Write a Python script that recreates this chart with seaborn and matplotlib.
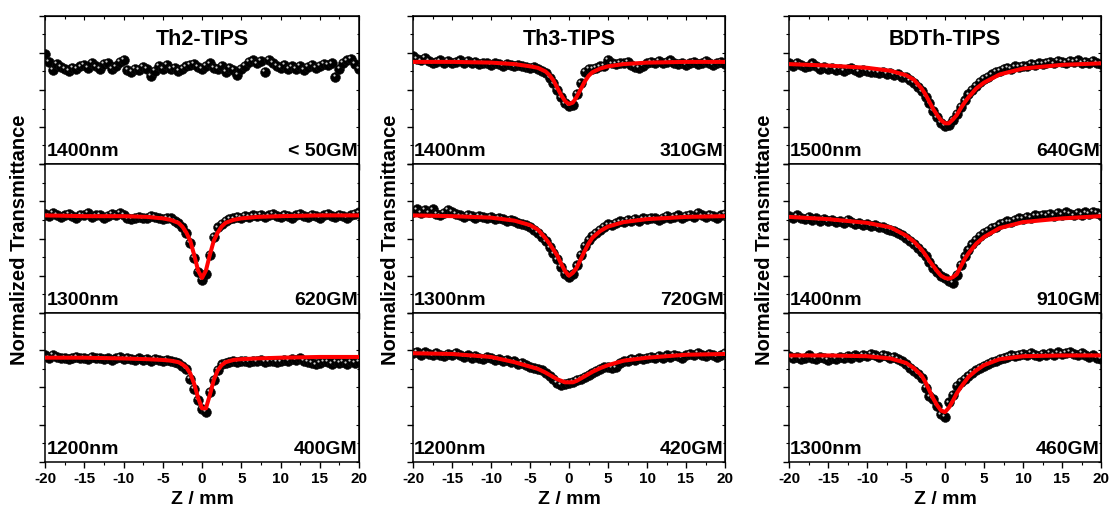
import numpy as np
import pandas as pd
import matplotlib
matplotlib.use("Agg")
import matplotlib.pyplot as plt
import matplotlib.transforms as mtransforms
from matplotlib.ticker import MultipleLocator, NullFormatter
import seaborn as sns

sns.set_style("ticks")
plt.rcParams["font.family"] = ["Liberation Sans", "DejaVu Sans"]
plt.rcParams["font.weight"] = "bold"
for key in ["text.color", "axes.labelcolor", "xtick.color", "ytick.color", "axes.edgecolor"]:
    plt.rcParams[key] = "black"

# scan positions (mm) of the measured points and the fit curve
z_scan = np.arange(-20, 20.01, 0.5)
z_fit = [-20, -15, -10, -7, -5, -4, -3, -2.5, -2, -1.5, -1, -0.5, 0,
         0.5, 1, 1.5, 2, 2.5, 3, 4, 5, 7, 10, 15, 20]

# ---- Th2-TIPS ----
th2_1400 = [0.998, 0.988, 0.977, 0.985, 0.981, 0.979, 0.976, 0.980, 0.979, 0.982, 0.984, 0.980,
            0.987, 0.982, 0.979, 0.985, 0.987, 0.978, 0.982, 0.988, 0.991, 0.977, 0.975, 0.979,
            0.977, 0.981, 0.978, 0.969, 0.976, 0.983, 0.979, 0.984, 0.978, 0.980, 0.976, 0.979,
            0.982, 0.984, 0.985, 0.981, 0.979, 0.983, 0.986, 0.980, 0.978, 0.983, 0.975, 0.980,
            0.977, 0.970, 0.979, 0.983, 0.988, 0.990, 0.986, 0.989, 0.975, 0.991, 0.987, 0.983,
            0.980, 0.984, 0.978, 0.982, 0.979, 0.983, 0.977, 0.981, 0.984, 0.980, 0.983, 0.985,
            0.984, 0.986, 0.968, 0.979, 0.987, 0.990, 0.992, 0.985, 0.978]
th2_1300 = [0.983, 0.980, 0.984, 0.982, 0.979, 0.981, 0.983, 0.980, 0.978, 0.982, 0.981, 0.984,
            0.979, 0.981, 0.982, 0.978, 0.980, 0.983, 0.981, 0.984, 0.982, 0.977, 0.976, 0.978,
            0.979, 0.977, 0.978, 0.980, 0.979, 0.977, 0.976, 0.978, 0.977, 0.974, 0.971,
            0.965, 0.957, 0.944, 0.924, 0.905, 0.894, 0.903, 0.928, 0.952, 0.965, 0.970,
            0.974, 0.976, 0.977, 0.979, 0.978, 0.980, 0.979, 0.981, 0.980, 0.982, 0.979, 0.981,
            0.983, 0.980, 0.979, 0.982, 0.980, 0.978, 0.981, 0.983, 0.980, 0.979, 0.982, 0.980,
            0.978, 0.981, 0.983, 0.980, 0.979, 0.982, 0.980, 0.978, 0.981, 0.983, 0.985]
th2_1300_fit = [0.981, 0.980, 0.980, 0.979, 0.977, 0.975, 0.971, 0.966, 0.958, 0.947, 0.928, 0.907,
                0.897, 0.907, 0.928, 0.947, 0.958, 0.966, 0.971, 0.975, 0.977, 0.979, 0.980, 0.981,
                0.981]
th2_1200 = [0.993, 0.990, 0.994, 0.991, 0.989, 0.990, 0.988, 0.990, 0.991, 0.989, 0.990, 0.988,
            0.991, 0.989, 0.990, 0.988, 0.989, 0.987, 0.989, 0.991, 0.988, 0.990, 0.988, 0.987,
            0.989, 0.987, 0.988, 0.986, 0.988, 0.987, 0.986, 0.987, 0.985, 0.984, 0.983,
            0.979, 0.975, 0.962, 0.948, 0.933, 0.921, 0.917, 0.944, 0.960, 0.974, 0.981,
            0.983, 0.984, 0.985, 0.984, 0.986, 0.985, 0.984, 0.986, 0.985, 0.987, 0.984, 0.985,
            0.986, 0.984, 0.985, 0.987, 0.986, 0.988, 0.987, 0.989, 0.986, 0.984, 0.983, 0.981,
            0.983, 0.985, 0.984, 0.982, 0.985, 0.983, 0.984, 0.982, 0.985, 0.983, 0.984]
th2_1200_fit = [0.990, 0.990, 0.989, 0.988, 0.987, 0.986, 0.984, 0.981, 0.977, 0.969, 0.955, 0.936,
                0.922, 0.922, 0.940, 0.960, 0.973, 0.980, 0.984, 0.987, 0.988, 0.989, 0.990, 0.991,
                0.991]

# ---- Th3-TIPS ----
th3_1400 = [0.996, 0.992, 0.990, 0.993, 0.989, 0.986, 0.988, 0.990, 0.987, 0.989, 0.986, 0.988,
            0.990, 0.987, 0.989, 0.986, 0.988, 0.985, 0.987, 0.986, 0.984, 0.986, 0.985, 0.983,
            0.985, 0.984, 0.982, 0.984, 0.983, 0.981, 0.980, 0.981, 0.979, 0.976, 0.973,
            0.966, 0.959, 0.950, 0.940, 0.932, 0.928, 0.930, 0.945, 0.960, 0.975, 0.978,
            0.978, 0.980, 0.982, 0.983, 0.991, 0.986, 0.985, 0.987, 0.986, 0.988, 0.984, 0.981,
            0.980, 0.983, 0.986, 0.988, 0.987, 0.989, 0.986, 0.988, 0.990, 0.987, 0.985, 0.987,
            0.984, 0.986, 0.988, 0.985, 0.987, 0.989, 0.986, 0.984, 0.986, 0.988, 0.985]
th3_1400_fit = [0.988, 0.988, 0.987, 0.985, 0.982, 0.980, 0.975, 0.970, 0.963, 0.953, 0.943, 0.935,
                0.931, 0.933, 0.941, 0.951, 0.961, 0.969, 0.974, 0.979, 0.982, 0.985, 0.987, 0.988,
                0.988]
th3_1300 = [0.986, 0.989, 0.984, 0.988, 0.985, 0.989, 0.983, 0.981, 0.984, 0.988, 0.986, 0.983,
            0.981, 0.979, 0.982, 0.980, 0.978, 0.980, 0.979, 0.977, 0.979, 0.976, 0.978, 0.976,
            0.974, 0.975, 0.973, 0.971, 0.970, 0.968, 0.966, 0.962, 0.958, 0.952, 0.946,
            0.938, 0.930, 0.922, 0.912, 0.903, 0.898, 0.903, 0.914, 0.928, 0.940, 0.948,
            0.954, 0.958, 0.962, 0.966, 0.969, 0.968, 0.971, 0.973, 0.972, 0.975, 0.974, 0.976,
            0.974, 0.977, 0.976, 0.978, 0.977, 0.975, 0.978, 0.980, 0.977, 0.979, 0.981, 0.978,
            0.980, 0.982, 0.979, 0.984, 0.981, 0.979, 0.982, 0.980, 0.978, 0.981, 0.983]
th3_1300_fit = [0.981, 0.980, 0.978, 0.974, 0.968, 0.962, 0.950, 0.943, 0.935, 0.927, 0.916, 0.906,
                0.900, 0.904, 0.911, 0.922, 0.933, 0.943, 0.951, 0.960, 0.966, 0.972, 0.976, 0.979,
                0.980]
th3_1200 = [0.996, 0.998, 0.994, 0.997, 0.995, 0.993, 0.996, 0.994, 0.992, 0.995, 0.993, 0.996,
            0.994, 0.991, 0.993, 0.990, 0.992, 0.990, 0.988, 0.991, 0.989, 0.987, 0.988, 0.986,
            0.987, 0.984, 0.985, 0.982, 0.983, 0.980, 0.978, 0.976, 0.975, 0.973, 0.970,
            0.966, 0.961, 0.956, 0.953, 0.955, 0.956, 0.958, 0.960, 0.961, 0.964, 0.967,
            0.970, 0.972, 0.975, 0.977, 0.978, 0.976, 0.977, 0.983, 0.985, 0.986, 0.988, 0.987,
            0.989, 0.988, 0.990, 0.991, 0.989, 0.992, 0.990, 0.993, 0.991, 0.994, 0.992, 0.990,
            0.993, 0.995, 0.993, 0.996, 0.994, 0.992, 0.995, 0.993, 0.991, 0.994, 0.996]
th3_1200_fit = [0.996, 0.995, 0.991, 0.984, 0.978, 0.975, 0.970, 0.967, 0.964, 0.961, 0.959, 0.957,
                0.957, 0.957, 0.959, 0.962, 0.965, 0.968, 0.971, 0.976, 0.980, 0.986, 0.990, 0.994,
                0.995]

# ---- BDTh-TIPS ----
bdth_1500 = [0.986, 0.983, 0.987, 0.984, 0.981, 0.983, 0.986, 0.982, 0.979, 0.981, 0.978, 0.980,
             0.977, 0.979, 0.976, 0.978, 0.980, 0.977, 0.975, 0.977, 0.976, 0.974, 0.975, 0.973,
             0.974, 0.972, 0.973, 0.970, 0.971, 0.968, 0.967, 0.963, 0.960, 0.954, 0.948,
             0.941, 0.932, 0.922, 0.913, 0.906, 0.902, 0.903, 0.910, 0.918, 0.927, 0.936,
             0.944, 0.950, 0.956, 0.961, 0.965, 0.968, 0.971, 0.974, 0.976, 0.978, 0.980, 0.979,
             0.982, 0.981, 0.983, 0.982, 0.985, 0.984, 0.986, 0.985, 0.987, 0.988, 0.986, 0.989,
             0.988, 0.987, 0.989, 0.988, 0.990, 0.987, 0.988, 0.986, 0.989, 0.987, 0.985]
bdth_1500_fit = [0.985, 0.983, 0.980, 0.976, 0.970, 0.964, 0.952, 0.944, 0.934, 0.924, 0.916, 0.909,
                 0.905, 0.905, 0.910, 0.916, 0.925, 0.933, 0.940, 0.952, 0.960, 0.971, 0.979, 0.984,
                 0.986]
bdth_1400 = [0.980, 0.977, 0.981, 0.978, 0.976, 0.979, 0.975, 0.977, 0.974, 0.976, 0.973, 0.975,
             0.972, 0.974, 0.971, 0.975, 0.972, 0.969, 0.971, 0.968, 0.970, 0.967, 0.968, 0.965,
             0.966, 0.963, 0.962, 0.960, 0.958, 0.955, 0.951, 0.947, 0.942, 0.937, 0.932,
             0.926, 0.918, 0.911, 0.905, 0.900, 0.897, 0.893, 0.890, 0.901, 0.915, 0.926,
             0.935, 0.942, 0.948, 0.953, 0.957, 0.960, 0.964, 0.966, 0.969, 0.971, 0.973, 0.972,
             0.975, 0.977, 0.976, 0.979, 0.978, 0.981, 0.980, 0.982, 0.981, 0.983, 0.980, 0.984,
             0.982, 0.985, 0.983, 0.981, 0.984, 0.982, 0.985, 0.983, 0.986, 0.984, 0.982]
bdth_1400_fit = [0.979, 0.976, 0.971, 0.965, 0.954, 0.946, 0.935, 0.928, 0.920, 0.913, 0.906, 0.900,
                 0.897, 0.896, 0.898, 0.902, 0.912, 0.922, 0.930, 0.943, 0.952, 0.964, 0.972, 0.977,
                 0.980]
bdth_1300 = [0.992, 0.989, 0.991, 0.988, 0.990, 0.993, 0.990, 0.988, 0.991, 0.989, 0.987, 0.990,
             0.988, 0.991, 0.989, 0.992, 0.990, 0.993, 0.991, 0.994, 0.992, 0.995, 0.993, 0.991,
             0.994, 0.992, 0.990, 0.991, 0.988, 0.986, 0.981, 0.976, 0.972, 0.968, 0.963,
             0.950, 0.938, 0.935, 0.925, 0.914, 0.911, 0.930, 0.940, 0.952, 0.957, 0.961,
             0.966, 0.970, 0.973, 0.976, 0.979, 0.982, 0.984, 0.986, 0.988, 0.990, 0.991, 0.993,
             0.992, 0.994, 0.995, 0.993, 0.996, 0.994, 0.992, 0.995, 0.993, 0.996, 0.994, 0.997,
             0.995, 0.996, 0.998, 0.995, 0.993, 0.996, 0.994, 0.991, 0.993, 0.990, 0.988]
bdth_1300_fit = [0.993, 0.993, 0.992, 0.989, 0.983, 0.976, 0.966, 0.957, 0.946, 0.935, 0.926, 0.919,
                 0.917, 0.923, 0.932, 0.942, 0.950, 0.957, 0.964, 0.973, 0.980, 0.988, 0.992, 0.993,
                 0.993]

columns = [
    ("Th2-TIPS", [(th2_1400, None, "1400nm", "< 50GM"),
                  (th2_1300, th2_1300_fit, "1300nm", "620GM"),
                  (th2_1200, th2_1200_fit, "1200nm", "400GM")]),
    ("Th3-TIPS", [(th3_1400, th3_1400_fit, "1400nm", "310GM"),
                  (th3_1300, th3_1300_fit, "1300nm", "720GM"),
                  (th3_1200, th3_1200_fit, "1200nm", "420GM")]),
    ("BDTh-TIPS", [(bdth_1500, bdth_1500_fit, "1500nm", "640GM"),
                   (bdth_1400, bdth_1400_fit, "1400nm", "910GM"),
                   (bdth_1300, bdth_1300_fit, "1300nm", "460GM")]),
]

W, H = 1110, 508
fig = plt.figure(figsize=(W / 100, H / 100), dpi=100)

col_left = [45, 413, 789]
col_width = [314, 312, 312]
row_top = [16, 164, 313]
row_h = [148, 149, 149]
ylab_x = [20, 390, 764]

for c, (title, panels) in enumerate(columns):
    for r, (vals, fit, wl, gm) in enumerate(panels):
        rect = [col_left[c] / W, 1 - (row_top[r] + row_h[r]) / H, col_width[c] / W, row_h[r] / H]
        ax = fig.add_axes(rect)
        df = pd.DataFrame({"z": z_scan, "T": vals})
        sns.scatterplot(data=df, x="z", y="T", ax=ax, color="black", s=50,
                        edgecolor="#111111", linewidth=0.4, zorder=3)
        # small highlight to give the sphere look
        hl = mtransforms.offset_copy(ax.transData, fig=fig, x=-1.3, y=1.3, units="points")
        ax.scatter(df["z"], df["T"], s=2.5, color="#d0d0d0", linewidths=0, transform=hl, zorder=4)
        if fit is not None:
            sns.lineplot(x=z_fit, y=fit, ax=ax, color="#ff0000", linewidth=2.9, zorder=5)

        ax.set_xlim(-20, 20)
        ax.set_ylim(0.85, 1.05)
        ax.xaxis.set_major_locator(MultipleLocator(5))
        ax.xaxis.set_minor_locator(MultipleLocator(2.5))
        ax.yaxis.set_major_locator(MultipleLocator(0.05))
        ax.yaxis.set_minor_locator(MultipleLocator(0.025))
        ax.yaxis.set_major_formatter(NullFormatter())
        ax.tick_params(axis="both", which="major", length=4, width=1, direction="out")
        ax.tick_params(axis="both", which="minor", length=2.5, width=0.8, direction="out")
        ax.tick_params(axis="x", labelsize=11, pad=3)
        for sp in ax.spines.values():
            sp.set_linewidth(1.1)
            sp.set_color("black")
        ax.set_xlabel("")
        ax.set_ylabel("")
        if r < 2:
            ax.xaxis.set_major_formatter(NullFormatter())
        else:
            ax.set_xticks([-20, -15, -10, -5, 0, 5, 10, 15, 20])
            ax.set_xticklabels(["-20", "-15", "-10", "-5", "0", "5", "10", "15", "20"],
                               fontweight="bold")
        # inward ticks on the top and right edges
        if r == 0:
            top = ax.secondary_xaxis("top")
            top.xaxis.set_major_locator(MultipleLocator(5))
            top.xaxis.set_minor_locator(MultipleLocator(2.5))
            top.xaxis.set_major_formatter(NullFormatter())
            top.tick_params(which="major", direction="in", length=3, width=0.8)
            top.tick_params(which="minor", direction="in", length=2, width=0.8)
        rgt = ax.secondary_yaxis("right")
        rgt.yaxis.set_major_locator(MultipleLocator(0.05))
        rgt.yaxis.set_minor_locator(MultipleLocator(0.025))
        rgt.yaxis.set_major_formatter(NullFormatter())
        rgt.tick_params(which="major", direction="in", length=2.5, width=0.8)
        rgt.tick_params(which="minor", direction="in", length=1.5, width=0.8)

        ax.text(0.004, 0.03, wl, transform=ax.transAxes, ha="left", va="bottom",
                fontsize=14, fontweight="bold")
        ax.text(0.996, 0.03, gm, transform=ax.transAxes, ha="right", va="bottom",
                fontsize=14, fontweight="bold")
        if r == 0:
            ax.text(0.5, 0.84, title, transform=ax.transAxes, ha="center", va="center",
                    fontsize=15.5, fontweight="bold")

    fig.text(ylab_x[c] / W, 1 - 240 / H, "Normalized Transmittance", rotation=90,
             ha="center", va="center", fontsize=14.5, fontweight="bold")
    fig.text((col_left[c] + col_width[c] / 2) / W, 1 - 499 / H, "Z / mm",
             ha="center", va="center", fontsize=14, fontweight="bold")

fig.savefig("out.png", dpi=100)
